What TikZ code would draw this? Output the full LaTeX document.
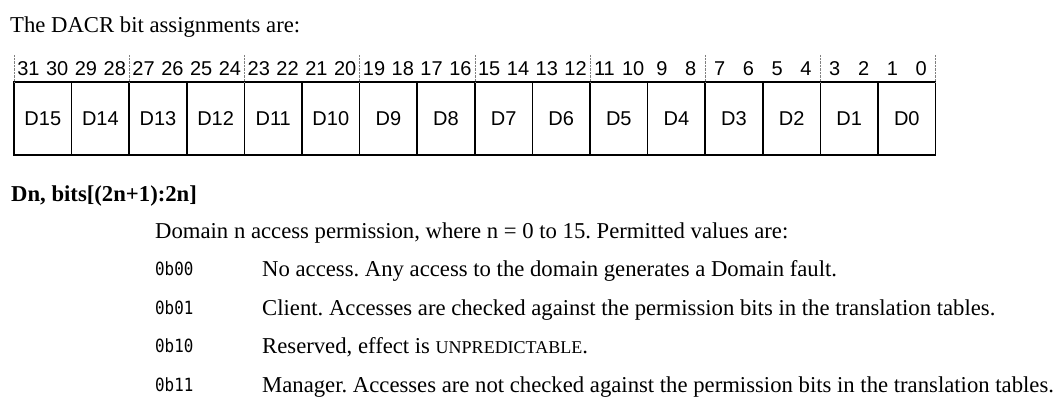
\documentclass[tikz,border=0pt]{standalone}
\usepackage{fontspec}
\setmainfont{Liberation Serif}
\setsansfont{Liberation Sans}
\setmonofont[FakeStretch=0.87]{DejaVu Sans Mono}
\usetikzlibrary{positioning}

\newcommand{\scaps}[1]{{\fontsize{18}{18}\selectfont #1}}
\frenchspacing

\begin{document}
\begin{tikzpicture}[x=1pt,y=-1pt,
	field/.style={draw, line width=1.6pt, minimum width=57.6pt, minimum height=73pt,
		inner sep=0pt, text height=14pt, text depth=0pt, font=\sffamily\fontsize{20}{20}\selectfont},
	bitno/.style={inner sep=0pt, anchor=base, font=\sffamily\fontsize{20}{20}\selectfont},
	body/.style={anchor=base west, inner sep=0pt, font=\fontsize{22.7}{23}\selectfont},
	code/.style={anchor=base west, inner sep=0pt, font=\ttfamily\fontsize{18.2}{19}\selectfont}]
	\useasboundingbox (0,0) rectangle (1057,400);
	
	\node[body] (title) at (10,32) {The DACR bit assignments are:};
	
	% register fields and bit numbers
	\foreach \n in {0,...,15}
		\node[field] (D\n) at ({14+(15-\n)*57.6+28.8},118.5) {D\n};
	\foreach \b in {0,...,31}
		\node[bitno] (b\b) at ({14+(31-\b)*28.8+14.4},75) {\b};
	\foreach \k in {0,...,8}
		\draw[densely dotted, gray] ({14+\k*115.2},55) -- ({14+\k*115.2},82);
	
	\node[body, font=\bfseries\fontsize{22.7}{23}\selectfont] (dn) at (11,201) {Dn, bits[(2n+1):2n]};
	\node[body] (desc) at (155,238.5) {Domain n access permission, where n = 0 to 15. Permitted values are:};
	
	\node[code] (v0) at (155,275.5) {0b00};
	\node[code] (v1) at (155,314) {0b01};
	\node[code] (v2) at (155,352.5) {0b10};
	\node[code] (v3) at (155,391) {0b11};
	
	\node[body] (t0) at (262,276.5) {No access. Any access to the domain generates a Domain fault.};
	\node[body] (t1) at (262,315) {Client. Accesses are checked against the permission bits in the translation tables.};
	\node[body] (t2) at (262,353.5) {Reserved, effect is \scaps{UNPREDICTABLE}.};
	\node[body] (t3) at (262,392) {Manager. Accesses are not checked against the permission bits in the translation tables.};
\end{tikzpicture}
\end{document}
